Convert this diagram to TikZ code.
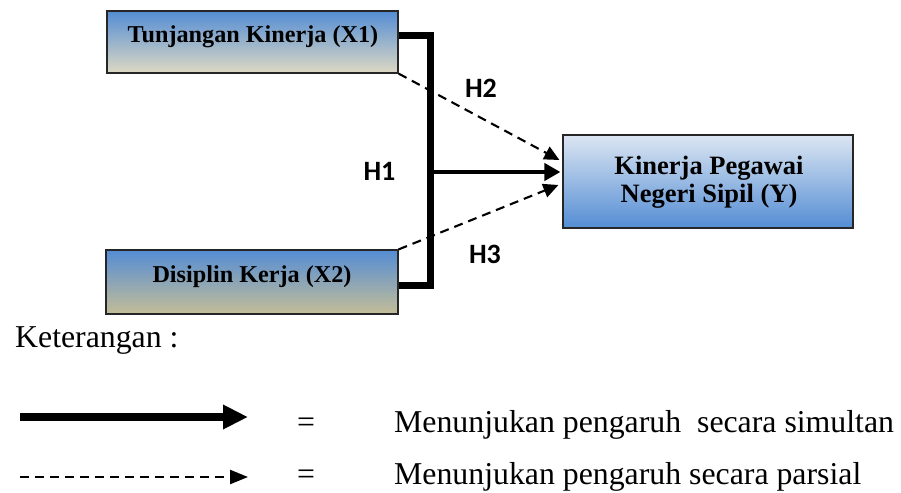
\documentclass[tikz,border=0pt]{standalone}
\usepackage{fontspec}
\setmainfont{Liberation Serif}
\newfontfamily\hfont{Carlito}
\usetikzlibrary{arrows.meta,calc}
\definecolor{bluetop}{RGB}{84,141,212}
\definecolor{beige}{RGB}{221,217,195}
\definecolor{tanc}{RGB}{196,189,151}
\definecolor{paleblue}{RGB}{220,230,242}
\begin{document}
\begin{tikzpicture}[x=1pt,y=-1pt,
  box/.style={draw=black!85, line width=1.2pt, inner sep=0pt},
  boxtxt/.style={font=\fontsize{24.2}{28}\selectfont\bfseries, inner sep=0pt},
  ytxt/.style={font=\fontsize{26.5}{28}\selectfont\bfseries, inner sep=0pt},
  hlab/.style={font=\hfont\fontsize{28}{30}\selectfont\bfseries, inner sep=0pt},
  bracketline/.style={line width=7pt, line join=miter},
  mainarr/.style={line width=4.5pt, -{Triangle[length=16pt,width=17pt]}},
  dasharr/.style={line width=2.1pt, dash pattern=on 9pt off 6pt, -{Triangle[length=15pt,width=14pt]}},
  legtxt/.style={font=\fontsize{31.8}{36}\selectfont, anchor=base west, inner sep=0pt},
  legsolid/.style={line width=8pt, -{Triangle[length=25pt,width=23pt]}},
  legdash/.style={line width=2.4pt, dash pattern=on 9pt off 6pt, -{Triangle[length=18pt,width=14pt]}}
]
\useasboundingbox (0,0) rectangle (901,492);

% boxes
\node[box, minimum width=291pt, minimum height=62pt, top color=bluetop, bottom color=beige] (X1) at (252.5,42) {};
\node[boxtxt, anchor=base] (X1t) at (253,43) {Tunjangan Kinerja (X1)};
\node[box, minimum width=292pt, minimum height=64pt, top color=bluetop, bottom color=tanc] (X2) at (252,282) {};
\node[boxtxt, anchor=base] (X2t) at (252,282) {Disiplin Kerja (X2)};
\node[box, minimum width=290pt, minimum height=93pt, top color=paleblue, bottom color=bluetop] (Y) at (708,181.5) {};
\node[ytxt, align=center] (Yt) at (709,182) {Kinerja Pegawai\\Negeri Sipil (Y)};

% bracket and arrows
\coordinate (j1) at (430,36);
\coordinate (j2) at (430,285);
\coordinate (jm) at (430,172);
\draw[bracketline] (X1.east |- j1) -- (j1) -- (j2) -- (X2.east |- j2);
\draw[mainarr] (jm) -- ($(Y.west |- jm)+(-2,0)$);
\draw[dasharr] (X1.south east) -- ($(Y.west)+(-3,-21.5)$);
\draw[dasharr] (X2.north east) -- ($(Y.west)+(-4,3.5)$);

% labels
\node[hlab] (H2) at (481,88) {H2};
\node[hlab] (H1) at (379.5,171.5) {H1};
\node[hlab] (H3) at (485,254) {H3};

% legend
\node[legtxt] (ket) at (15,347) {Keterangan :};
\coordinate (s1) at (20,417);
\coordinate (s2) at (248,417);
\draw[legsolid] (s1) -- (s2);
\coordinate (d1) at (20,477);
\coordinate (d2) at (248,477);
\draw[legdash] (d1) -- (d2);
\node[legtxt] (eq1) at (297,432) {=};
\node[legtxt] (eq2) at (297,484) {=};
\node[legtxt] (t1) at (394,432) {Menunjukan pengaruh\ \ secara simultan};
\node[legtxt] (t2) at (394,484) {Menunjukan pengaruh secara parsial};
\end{tikzpicture}
\end{document}
